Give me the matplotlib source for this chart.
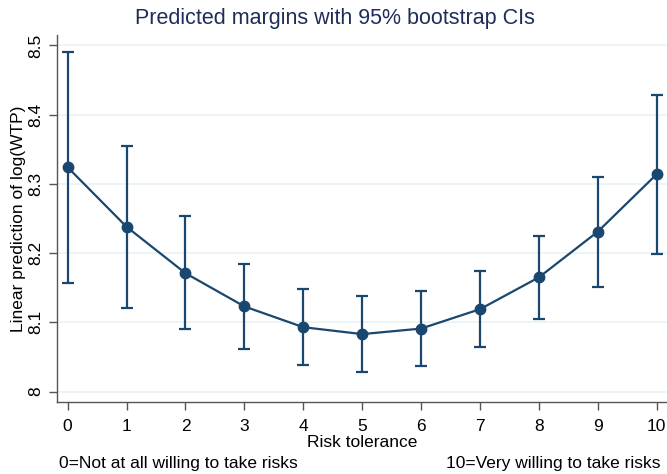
import matplotlib
matplotlib.use('Agg')
import matplotlib.pyplot as plt

# data
risk = [0, 1, 2, 3, 4, 5, 6, 7, 8, 9, 10]
margin = [8.324, 8.238, 8.171, 8.123, 8.093, 8.083, 8.091, 8.119, 8.165, 8.231, 8.314]
ci_low = [8.157, 8.121, 8.090, 8.062, 8.038, 8.028, 8.037, 8.065, 8.105, 8.151, 8.199]
ci_high = [8.491, 8.355, 8.253, 8.184, 8.148, 8.138, 8.146, 8.174, 8.225, 8.310, 8.428]
yticks = [8.0, 8.1, 8.2, 8.3, 8.4, 8.5]
ytick_labels = ['8', '8.1', '8.2', '8.3', '8.4', '8.5']

navy = '#1a476f'
plt.rcParams['font.family'] = ['Liberation Sans', 'DejaVu Sans']

fig = plt.figure(figsize=(6.67, 4.74), dpi=100)
ax = fig.add_axes([0.0859, 0.152, 0.9141, 0.774])

err_lo = [m - l for m, l in zip(margin, ci_low)]
err_hi = [h - m for m, h in zip(margin, ci_high)]
ax.errorbar(risk, margin, yerr=[err_lo, err_hi], fmt='none', ecolor=navy,
            elinewidth=1.6, capsize=4.5, capthick=1.6, zorder=2)
ax.plot(risk, margin, color=navy, linewidth=1.6, marker='o', markersize=7.5, zorder=3)

ax.set_xlim(-0.176, 10.175)
ax.set_ylim(7.985, 8.515)
ax.set_xticks(risk)
ax.set_yticks(yticks)
ax.set_yticklabels(ytick_labels, rotation=90, va='center')
ax.tick_params(axis='both', direction='out', length=6, width=1, color='#555555',
               labelsize=12.5)
ax.tick_params(axis='x', pad=6)
ax.tick_params(axis='y', pad=4)
ax.grid(axis='y', color='#eaf2f3', linewidth=1.2)
ax.set_axisbelow(True)
for side in ['top', 'right']:
    ax.spines[side].set_visible(False)
for side in ['left', 'bottom']:
    ax.spines[side].set_color('#555555')
    ax.spines[side].set_linewidth(1)

ax.set_xlabel('Risk tolerance', fontsize=12.5, labelpad=1)
ax.set_ylabel('Linear prediction of log(WTP)', fontsize=12.5, labelpad=2)
fig.text(0.502, 0.962, 'Predicted margins with 95% bootstrap CIs', ha='center', va='center',
         fontsize=15.5, color='#1e2d5a')
fig.text(0.089, 0.022, '0=Not at all willing to take risks', ha='left', va='center', fontsize=12.5)
fig.text(0.991, 0.022, '10=Very willing to take risks', ha='right', va='center', fontsize=12.5)

fig.savefig('out.png', dpi=100, facecolor='white')
